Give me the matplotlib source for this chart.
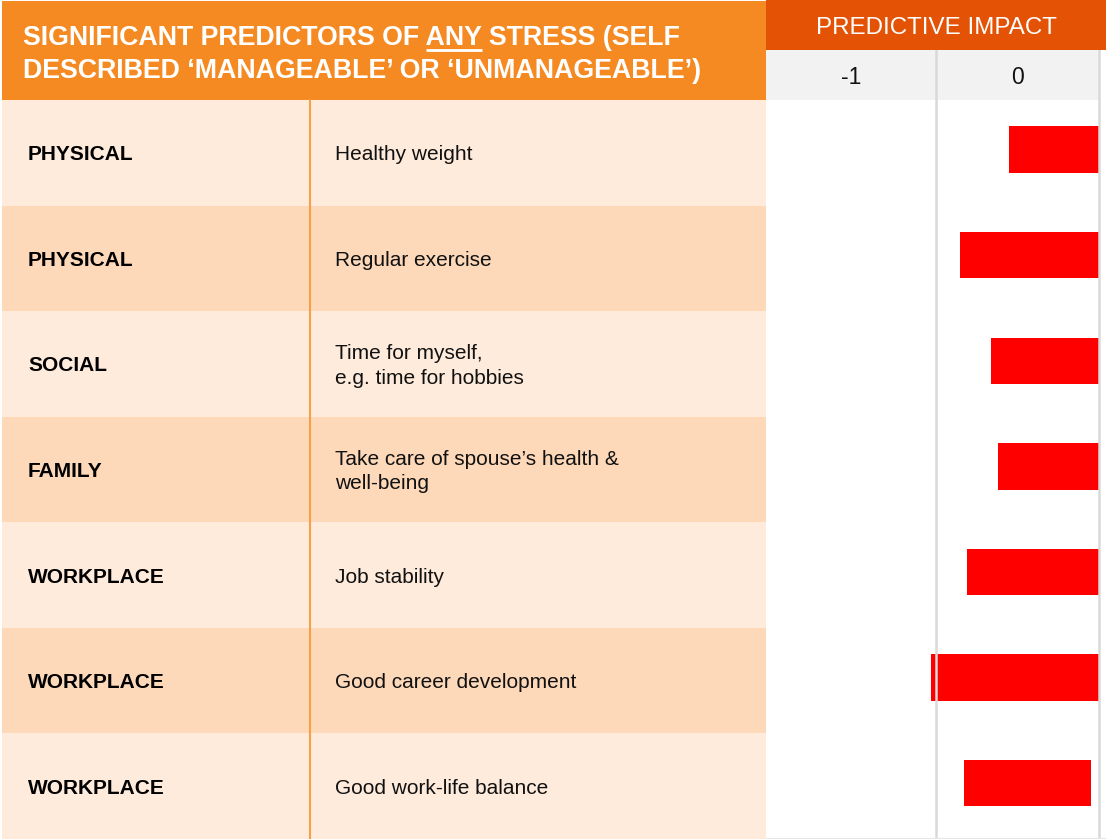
import matplotlib.pyplot as plt
from matplotlib import font_manager as fm
from matplotlib.patches import Rectangle

# data
categories = ['PHYSICAL', 'PHYSICAL', 'SOCIAL', 'FAMILY', 'WORKPLACE', 'WORKPLACE', 'WORKPLACE']
predictors = ['Healthy weight',
              'Regular exercise',
              'Time for myself,\ne.g. time for hobbies',
              'Take care of spouse\u2019s health &\nwell-being',
              'Job stability',
              'Good career development',
              'Good work-life balance']
bar_start = [-0.05, -0.35, -0.16, -0.12, -0.31, -0.53, -0.33]
bar_end = [0.50, 0.50, 0.50, 0.50, 0.50, 0.50, 0.45]
impact_cols = ['-1', '0']

W, H = 1106, 839
TOP = 100
ROW_H = (H - TOP) / len(categories)

installed = {f.name for f in fm.fontManager.ttflist}
SANS = 'Liberation Sans' if 'Liberation Sans' in installed else 'DejaVu Sans'
plt.rcParams['font.family'] = SANS

fig = plt.figure(figsize=(W / 100, H / 100), dpi=100)
bg = fig.add_axes([0, 0, 1, 1])
bg.set_xlim(0, W)
bg.set_ylim(H, 0)
bg.axis('off')

# headers
bg.add_patch(Rectangle((2, 1), 764, 99, color='#F58A22', lw=0))
bg.add_patch(Rectangle((766, 0), W - 766, 50, color='#E35205', lw=0))

hdr1 = 'SIGNIFICANT PREDICTORS OF ANY STRESS (SELF'
hdr2 = 'DESCRIBED \u2018MANAGEABLE\u2019 OR \u2018UNMANAGEABLE\u2019)'
hsize = 19.3
bg.text(23, 45, hdr1, color='white', fontsize=hsize, fontweight='bold',
        va='baseline', ha='left')
bg.text(23, 78, hdr2, color='white', fontsize=hsize, fontweight='bold',
        va='baseline', ha='left')

# underline under "ANY"
r = fig.canvas.get_renderer()
pre = bg.text(23, 45, 'SIGNIFICANT PREDICTORS OF ANY', fontsize=hsize, fontweight='bold',
              va='baseline', ha='left', alpha=0)
anyw = bg.text(23, 45, 'ANY', fontsize=hsize, fontweight='bold',
               va='baseline', ha='left', alpha=0)
bb_pre = pre.get_window_extent(r)
bb_any = anyw.get_window_extent(r)
inv = bg.transData.inverted()
x_end = inv.transform((bb_pre.x1, bb_pre.y0))[0]
x_beg = inv.transform((bb_pre.x1 - bb_any.width, bb_pre.y0))[0]
bg.plot([x_beg, x_end], [50, 50], color='white', lw=2, solid_capstyle='butt')

bg.text((766 + W) / 2, 28, 'PREDICTIVE IMPACT', color='white', fontsize=17.4,
        ha='center', va='center')

# table rows
for i, (cat, pred) in enumerate(zip(categories, predictors)):
    y0 = TOP + i * ROW_H
    col = '#FEEBDC' if i % 2 == 0 else '#FDD9BA'
    bg.add_patch(Rectangle((2, y0), 764, ROW_H, color=col, lw=0))
    yc = y0 + ROW_H / 2 + 2
    bg.text(28, yc, cat, fontsize=15, fontweight='bold', color='black', va='center', ha='left')
    bg.text(335, yc, pred, fontsize=15, color='#111111', va='center', ha='left',
            linespacing=1.38)
bg.plot([310, 310], [TOP, H], color='#F7A048', lw=1.5)

# impact bars
ax = fig.add_axes([766 / W, 0, (W - 766) / W, (H - 50) / H])
ax.patch.set_alpha(0)
scale = 163.0
xmin = -0.5 - (936 - 766) / scale
xmax = 0.5 + (W - 1099) / scale
hdr_rows = 50 / ROW_H
ax.set_xlim(xmin, xmax)
ax.set_ylim(len(categories) - 0.5, -0.5 - hdr_rows)
ax.axis('off')

ax.fill_between([xmin, 0.5], -0.5 - hdr_rows, -0.5, color='#F2F2F2', lw=0)
ax.axvline(-0.5, color='#D9D9D9', lw=1.8)
ax.axvline(0.5, color='#D9D9D9', lw=1.8)
ax.axhline(len(categories) - 0.5, color='#E6E6E6', lw=1.5)

ypos = [i - 0.03 for i in range(len(categories))]
widths = [e - s for s, e in zip(bar_start, bar_end)]
ax.barh(ypos, widths, left=bar_start, height=0.44, color='#FF0000', lw=0)

col_centers = [(xmin - 0.5) / 2, 0.0]
for xc, lab in zip(col_centers, impact_cols):
    ax.text(xc, -0.5 - hdr_rows / 2 + 0.02, lab, fontsize=16.5, ha='center', va='center',
            color='#111111')

fig.savefig('out.png', dpi=100)
